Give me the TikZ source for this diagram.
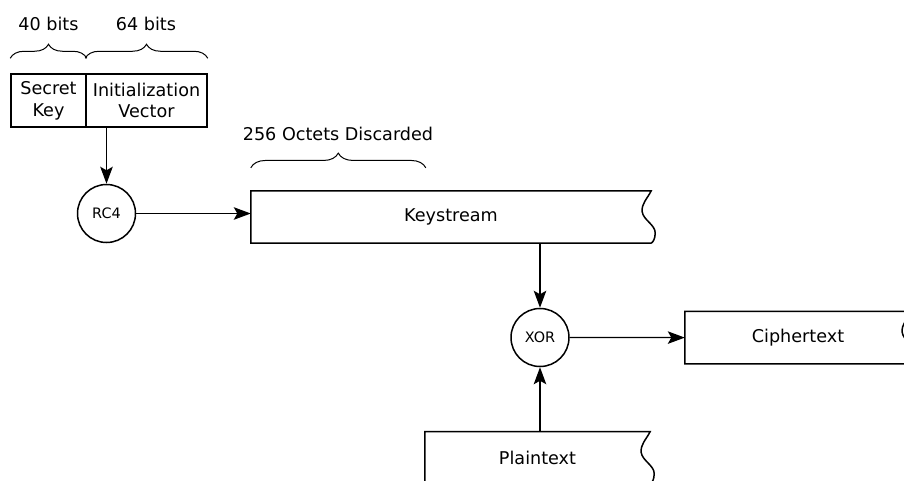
\documentclass[tikz,border=0pt]{standalone}
\usepackage{fontspec}
\setmainfont{DejaVu Sans}
\usetikzlibrary{arrows.meta,calc,decorations.pathreplacing}
\newcommand\tapeoutline[1]{%
  \draw[boxline] (#1.south east) -- (#1.south west) -- (#1.north west) -- (#1.north east)
    .. controls ($(#1.north east)+(-4,8)$) and ($(#1.north east)+(-10,13)$) .. ($(#1.north east)+(-9,21)$)
    .. controls ($(#1.north east)+(-8,29)$) and ($(#1.north east)+(4,34)$) .. ($(#1.north east)+(4,42)$)
    .. controls ($(#1.north east)+(4,48)$) and ($(#1.north east)+(2,51)$) .. (#1.south east);}
\begin{document}
\begin{tikzpicture}[x=1pt,y=-1pt,
  boxline/.style={line width=1.5pt, line join=miter},
  boxnode/.style={rectangle, inner sep=0pt, font=\fontsize{17.6}{21.7}\selectfont, align=center},
  framed/.style={boxnode, draw, line width=1.5pt},
  op/.style={circle, draw, line width=1.5pt, minimum size=58pt, inner sep=0pt, font=\fontsize{14.4}{16}\selectfont, fill=white},
  conn/.style={line width=1.3pt, -{Stealth[length=17pt,width=12.5pt,inset=3.5pt]}},
  brc/.style={line width=1pt, decorate, decoration={brace, amplitude=14pt}},
  lbl/.style={font=\fontsize{17.6}{21}\selectfont, inner sep=0pt}]
\fill[white] (0,0) rectangle (904,480);
\useasboundingbox (0,0) rectangle (904,480);
\clip (0,0) rectangle (904,480);

% key + IV
\node[framed, minimum width=75pt, minimum height=53pt] (sk) at (48.5,100.5) {Secret\\Key};
\node[framed, minimum width=121pt, minimum height=53pt] (iv) at (146.5,100.5) {Initialization\\Vector};

% braces and labels
\draw[brc] ($(sk.north west)+(0,-15)$) -- ($(sk.north east)+(0,-15)$);
\draw[brc] ($(iv.north west)+(0,-15)$) -- ($(iv.north east)+(0,-15)$);
\node[lbl] (l40) at (48.5,23.5) {40 bits};
\node[lbl] (l64) at (146,23.5) {64 bits};

% operators
\node[op] (rc4) at (106.5,213.5) {RC4};
\node[op] (xor) at (540,337.5) {XOR};

% tape boxes
\node[boxnode, minimum width=400pt, minimum height=52pt] (ks) at (451,217) {Keystream};
\tapeoutline{ks}
\draw[brc, decoration={amplitude=14.7pt}] ($(ks.north west)+(0,-23)$) -- ($(ks.north west)+(175,-23)$);
\node[lbl] (l256) at (338,134) {256 Octets Discarded};

\node[boxnode, minimum width=226pt, minimum height=52pt] (ct) at (798,337.6) {Ciphertext};
\tapeoutline{ct}
\node[boxnode, minimum width=225pt, minimum height=52pt] (pt) at (537.5,457.7) {Plaintext};
\tapeoutline{pt}

% connectors
\draw[conn] (rc4 |- iv.south) -- (rc4.north);
\draw[conn] (rc4.east) -- (rc4.east -| ks.west);
\draw[conn] (xor |- ks.south) -- (xor.north);
\draw[conn] (xor |- pt.north) -- (xor.south);
\draw[conn] (xor.east) -- (ct.west);
\end{tikzpicture}
\end{document}
